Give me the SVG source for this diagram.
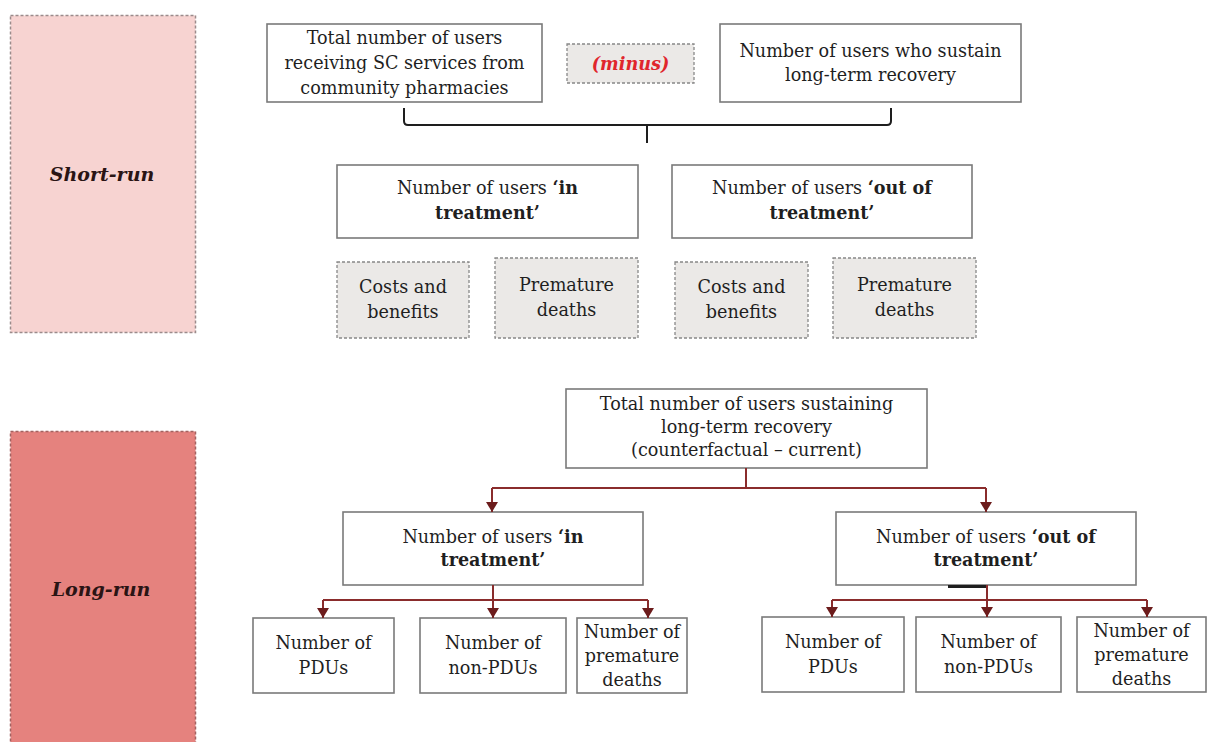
<svg xmlns="http://www.w3.org/2000/svg" width="1208" height="742" viewBox="0 0 1208 742">
  <style>
    .box { fill: #ffffff; stroke: #7a7a7a; stroke-width: 1.6; }
    .dbox { fill: #ebe9e7; stroke: #888888; stroke-width: 1.3; stroke-dasharray: 3 2; }
    .t { font-family: "DejaVu Serif", "Liberation Serif", serif; font-size: 17.6px; fill: #1f1f1f; text-anchor: middle; }
    .b { font-weight: bold; }
    .phase { font-family: "DejaVu Serif", "Liberation Serif", serif; font-size: 19px; font-weight: bold; font-style: italic; fill: #2a1414; text-anchor: middle; }
    .minus { font-family: "DejaVu Serif", "Liberation Serif", serif; font-size: 17.6px; font-weight: bold; font-style: italic; fill: #e0262c; text-anchor: middle; }
    .link { fill: none; stroke: #8a2c2c; stroke-width: 2; }
    .brace { fill: none; stroke: #1e1e1e; stroke-width: 2; }
  </style>
  <defs>
    <!-- arrowhead drawn along +x, tip at the path end -->
    <marker id="arrow" viewBox="0 0 10 12" refX="10" refY="6" markerWidth="10" markerHeight="12" markerUnits="userSpaceOnUse" orient="auto">
      <path d="M0,0 L10,6 L0,12 Z" fill="#6c1c1c"/>
    </marker>
  </defs>

  <rect width="1208" height="742" fill="#ffffff"/>

  <!-- phase bands -->
  <g id="short-run">
    <rect x="10.5" y="15.5" width="185" height="317" fill="#f7d3d1" stroke="#9b8b8b" stroke-width="1.5" stroke-dasharray="3 2"/>
    <text class="phase" x="102" y="181">Short-run</text>
  </g>
  <g id="long-run">
    <rect x="10.5" y="431.5" width="185" height="320" fill="#e5827e" stroke="#a36260" stroke-width="1.5" stroke-dasharray="3 2"/>
    <text class="phase" x="101" y="596">Long-run</text>
  </g>

  <!-- short-run nodes -->
  <g id="sc-users">
    <rect class="box" x="267" y="24" width="275" height="78"/>
    <text class="t" x="404.5" y="44">Total number of users</text>
    <text class="t" x="404.5" y="69">receiving SC services from</text>
    <text class="t" x="404.5" y="94">community pharmacies</text>
  </g>
  <g id="minus">
    <rect class="dbox" x="567" y="44" width="127" height="39"/>
    <text class="minus" x="630.5" y="70">(minus)</text>
  </g>
  <g id="sustain-recovery">
    <rect class="box" x="720" y="24" width="301" height="78"/>
    <text class="t" x="870.5" y="57">Number of users who sustain</text>
    <text class="t" x="870.5" y="81">long-term recovery</text>
  </g>
  <g id="sr-in-treatment">
    <rect class="box" x="337" y="165" width="301" height="73"/>
    <text class="t" x="487.5" y="194">Number of users <tspan class="b">‘in</tspan></text>
    <text class="t b" x="487.5" y="219">treatment’</text>
  </g>
  <g id="sr-out-treatment">
    <rect class="box" x="672" y="165" width="300" height="73"/>
    <text class="t" x="822" y="194">Number of users <tspan class="b">‘out of</tspan></text>
    <text class="t b" x="822" y="219">treatment’</text>
  </g>
  <g id="sr-in-costs">
    <rect class="dbox" x="337" y="262" width="132" height="76"/>
    <text class="t" x="403" y="293">Costs and</text>
    <text class="t" x="403" y="318">benefits</text>
  </g>
  <g id="sr-in-deaths">
    <rect class="dbox" x="495" y="258" width="143" height="80"/>
    <text class="t" x="566.5" y="291">Premature</text>
    <text class="t" x="566.5" y="316">deaths</text>
  </g>
  <g id="sr-out-costs">
    <rect class="dbox" x="675" y="262" width="133" height="76"/>
    <text class="t" x="741.5" y="293">Costs and</text>
    <text class="t" x="741.5" y="318">benefits</text>
  </g>
  <g id="sr-out-deaths">
    <rect class="dbox" x="833" y="258" width="143" height="80"/>
    <text class="t" x="904.5" y="291">Premature</text>
    <text class="t" x="904.5" y="316">deaths</text>
  </g>

  <!-- long-run nodes -->
  <g id="lr-total">
    <rect class="box" x="566" y="389" width="361" height="79"/>
    <text class="t" x="746.5" y="410">Total number of users sustaining</text>
    <text class="t" x="746.5" y="433">long-term recovery</text>
    <text class="t" x="746.5" y="456">(counterfactual – current)</text>
  </g>
  <g id="lr-in-treatment">
    <rect class="box" x="343" y="512" width="300" height="73"/>
    <text class="t" x="493" y="543">Number of users <tspan class="b">‘in</tspan></text>
    <text class="t b" x="493" y="566">treatment’</text>
  </g>
  <g id="lr-out-treatment">
    <rect class="box" x="836" y="512" width="300" height="73"/>
    <text class="t" x="986" y="543">Number of users <tspan class="b">‘out of</tspan></text>
    <text class="t b" x="986" y="566">treatment’</text>
  </g>
  <g id="lr-in-pdu">
    <rect class="box" x="253" y="618" width="141" height="75"/>
    <text class="t" x="323.5" y="649">Number of</text>
    <text class="t" x="323.5" y="674">PDUs</text>
  </g>
  <g id="lr-in-nonpdu">
    <rect class="box" x="420" y="618" width="146" height="75"/>
    <text class="t" x="493" y="649">Number of</text>
    <text class="t" x="493" y="674">non-PDUs</text>
  </g>
  <g id="lr-in-deaths">
    <rect class="box" x="577" y="618" width="110" height="75"/>
    <text class="t" x="632" y="638">Number of</text>
    <text class="t" x="632" y="662">premature</text>
    <text class="t" x="632" y="686">deaths</text>
  </g>
  <g id="lr-out-pdu">
    <rect class="box" x="762" y="617" width="142" height="75"/>
    <text class="t" x="833" y="648">Number of</text>
    <text class="t" x="833" y="673">PDUs</text>
  </g>
  <g id="lr-out-nonpdu">
    <rect class="box" x="916" y="617" width="145" height="75"/>
    <text class="t" x="988.5" y="648">Number of</text>
    <text class="t" x="988.5" y="673">non-PDUs</text>
  </g>
  <g id="lr-out-deaths">
    <rect class="box" x="1077" y="617" width="129" height="75"/>
    <text class="t" x="1141.5" y="637">Number of</text>
    <text class="t" x="1141.5" y="661">premature</text>
    <text class="t" x="1141.5" y="685">deaths</text>
  </g>

  <!-- connectors -->
  <g id="connectors">
    <!-- bracket joining the two top boxes -->
    <path class="brace" d="M404,108 V121 Q404,125 408,125 H887 Q891,125 891,121 V108"/>
    <path class="brace" d="M647,125 V143"/>

    <!-- long-run tree -->
    <path class="link" d="M746,468 V488"/>
    <path class="link" d="M492,488 H986"/>
    <path class="link" d="M492,488 V512" marker-end="url(#arrow)"/>
    <path class="link" d="M986,488 V512" marker-end="url(#arrow)"/>

    <path class="link" d="M493,585 V600"/>
    <path class="link" d="M323,600 H648"/>
    <path class="link" d="M323,600 V618" marker-end="url(#arrow)"/>
    <path class="link" d="M493,600 V618" marker-end="url(#arrow)"/>
    <path class="link" d="M648,600 V618" marker-end="url(#arrow)"/>

    <path d="M948,586.5 H988" stroke="#1e1e1e" stroke-width="3"/>
    <path class="link" d="M987,585 V600"/>
    <path class="link" d="M832,600 H1147"/>
    <path class="link" d="M832,600 V617" marker-end="url(#arrow)"/>
    <path class="link" d="M987,600 V617" marker-end="url(#arrow)"/>
    <path class="link" d="M1147,600 V617" marker-end="url(#arrow)"/>
  </g>
</svg>
